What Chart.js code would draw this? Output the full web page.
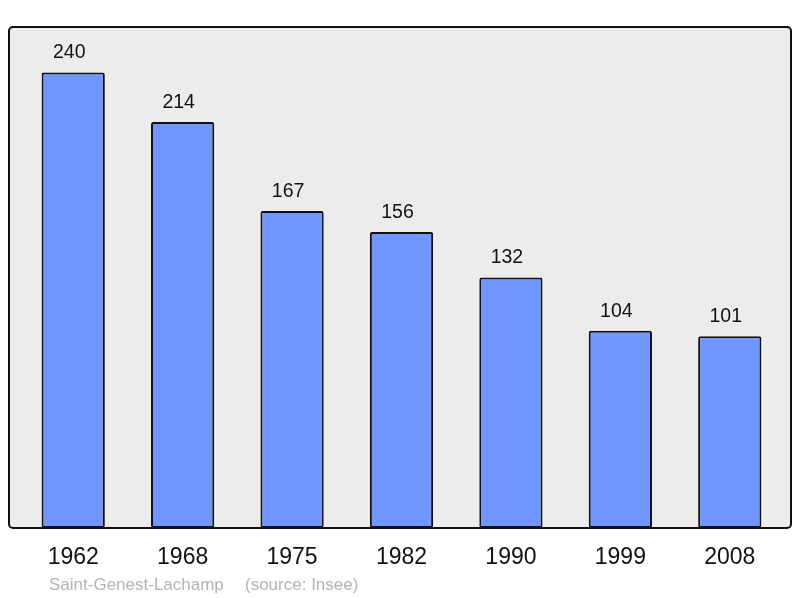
<!DOCTYPE html>
<html>
<head>
<meta charset="utf-8">
<script src="https://cdn.jsdelivr.net/npm/chart.js@4"></script>
<style>
  html, body { margin: 0; padding: 0; background: #ffffff; }
  #wrap { width: 800px; height: 598px; }
</style>
</head>
<body>
<div id="wrap"><canvas id="chart" width="800" height="598"></canvas></div>
<script>
// population data
const years = ['1962', '1968', '1975', '1982', '1990', '1999', '2008'];
const population = [240, 214, 167, 156, 132, 104, 101];
const townName = 'Saint-Genest-Lachamp';
const sourceText = '(source: Insee)';

const FONT = '"Liberation Sans", Arial, sans-serif';

// grey panel with rounded black frame
const framePlugin = {
    id: 'frame',
    frameRect(chart) {
        const a = chart.chartArea;
        return { x: a.left - 9.5, y: a.top, w: (a.right + 6.5) - (a.left - 9.5), h: a.bottom - a.top };
    },
    beforeDatasetsDraw(chart) {
        const ctx = chart.ctx;
        const r = this.frameRect(chart);
        ctx.save();
        ctx.beginPath();
        ctx.roundRect(r.x, r.y, r.w, r.h, 4);
        ctx.fillStyle = '#ececec';
        ctx.fill();
        ctx.restore();
    },
    afterDatasetsDraw(chart) {
        const ctx = chart.ctx;
        const r = this.frameRect(chart);
        ctx.save();
        ctx.beginPath();
        ctx.roundRect(r.x, r.y, r.w, r.h, 4);
        ctx.lineWidth = 2;
        ctx.strokeStyle = '#111111';
        ctx.stroke();

        // values above bars
        const meta = chart.getDatasetMeta(0);
        ctx.fillStyle = '#111111';
        ctx.font = '19.5px ' + FONT;
        ctx.textAlign = 'center';
        ctx.textBaseline = 'middle';
        meta.data.forEach((bar, i) => {
            ctx.fillText(String(population[i]), bar.x - 4, bar.y - 19.5);
        });

        // footer
        ctx.fillStyle = '#b4b4b4';
        ctx.font = '17px ' + FONT;
        ctx.textAlign = 'left';
        ctx.fillText(townName, 49, 585);
        ctx.fillText(sourceText, 245, 585);
        ctx.restore();
    }
};

new Chart(document.getElementById('chart'), {
    type: 'bar',
    data: {
        labels: years,
        datasets: [{
            data: population,
            backgroundColor: '#7096ff',
            borderColor: '#111111',
            borderWidth: 2,
            borderRadius: 2,
            borderSkipped: false,
            categoryPercentage: 1,
            barPercentage: 0.578
        }]
    },
    options: {
        responsive: false,
        animation: false,
        layout: { padding: { left: 18.5, right: 15.5, top: 27, bottom: 0 } },
        plugins: {
            legend: { display: false },
            tooltip: { enabled: false }
        },
        scales: {
            x: {
                grid: { display: false, drawTicks: false },
                border: { display: false },
                ticks: {
                    color: '#111111',
                    font: { family: FONT, size: 23 },
                    padding: 16,
                    maxRotation: 0
                },
                afterFit(scale) { scale.height = 70; }
            },
            y: {
                display: false,
                min: 0,
                max: 264
            }
        }
    },
    plugins: [framePlugin]
});
</script>
</body>
</html>
